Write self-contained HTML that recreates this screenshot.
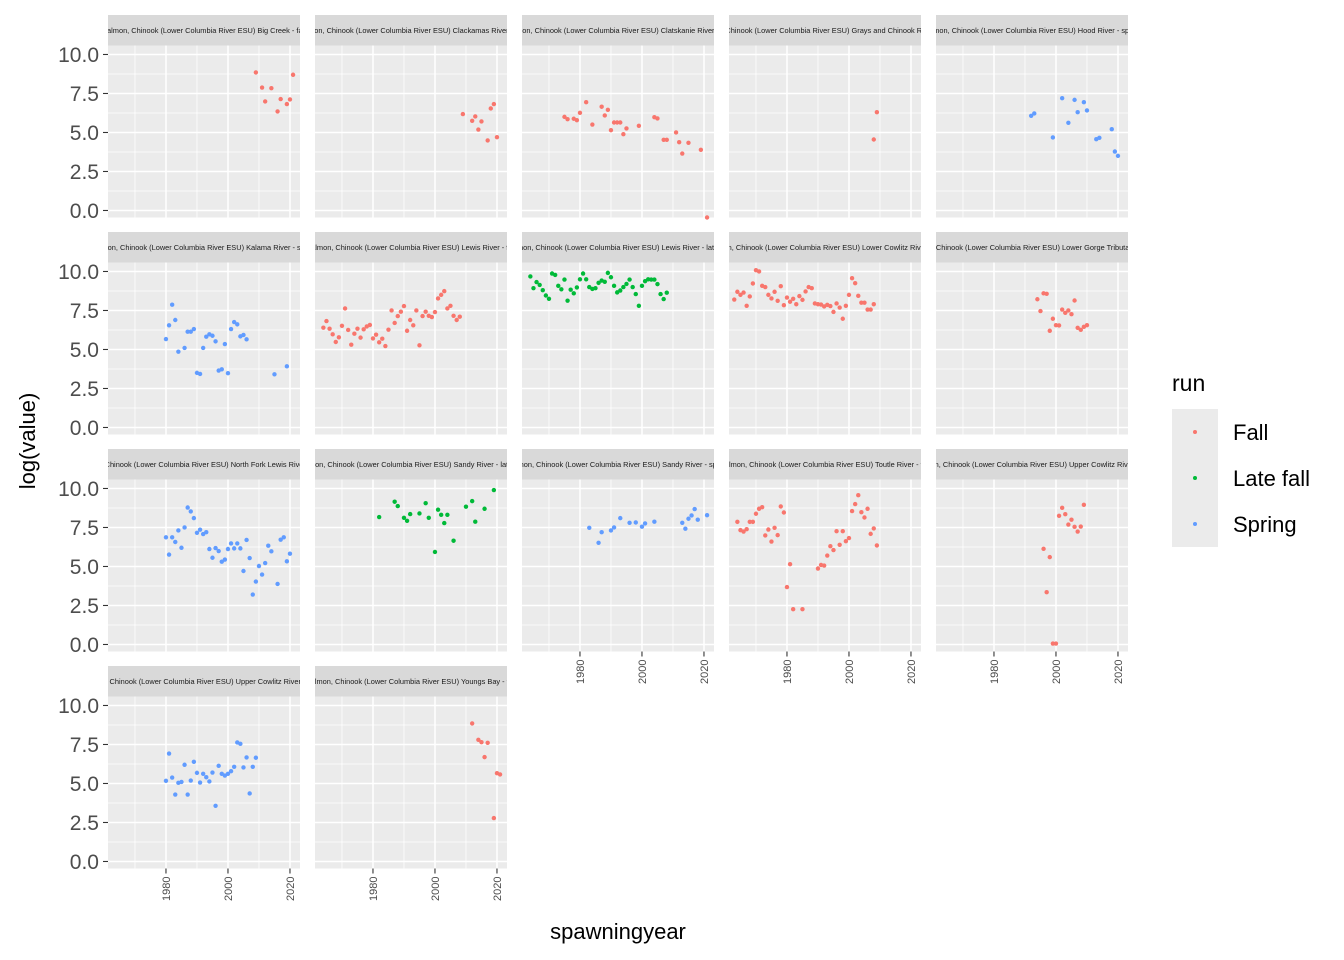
<!DOCTYPE html>
<html><head><meta charset="utf-8"><style>
html,body{margin:0;padding:0;background:#fff;}
svg{display:block;font-family:"Liberation Sans",sans-serif;}
</style></head><body>
<svg id="chart" width="1344" height="960" viewBox="0 0 1344 960" xmlns="http://www.w3.org/2000/svg"></svg>
<script>
// ---- data (years / log(value)) ----
const bigCreekYears = [2009,2011,2012,2014,2016,2017,2019,2020,2021];
const bigCreekValues = [8.85,7.88,6.99,7.84,6.35,7.14,6.82,7.12,8.70];
const clackamasYears = [2009,2012,2013,2014,2015,2017,2018,2019,2020];
const clackamasValues = [6.18,5.75,6.03,5.19,5.71,4.49,6.54,6.82,4.70];
const clatskanieYears = [1975,1976,1978,1979,1980,1982,1984,1987,1988,1989,1990,1991,1992,1993,1994,1995,1999,2004,2005,2007,2008,2011,2012,2013,2015,2019,2021];
const clatskanieValues = [6.0,5.85,5.88,5.79,6.26,6.94,5.51,6.65,6.09,6.45,5.15,5.64,5.64,5.64,4.89,5.26,5.43,5.98,5.90,4.53,4.53,5.0,4.38,3.65,4.34,3.89,-0.45];
const graysYears = [2008,2009];
const graysValues = [4.55,6.3];
const hoodYears = [1992,1993,1999,2002,2004,2006,2007,2009,2010,2013,2014,2018,2019,2020];
const hoodValues = [6.07,6.22,4.68,7.2,5.62,7.09,6.3,6.94,6.41,4.57,4.66,5.21,3.78,3.5];
const kalamaYears = [1980,1981,1982,1983,1984,1986,1987,1988,1989,1990,1991,1992,1993,1994,1995,1996,1997,1998,1999,2000,2001,2002,2003,2004,2005,2006,2015,2019];
const kalamaValues = [5.67,6.55,7.87,6.89,4.86,5.1,6.14,6.14,6.31,3.5,3.43,5.1,5.82,5.97,5.88,5.52,3.65,3.73,5.35,3.48,6.31,6.76,6.61,5.84,5.93,5.65,3.41,3.92];
const lewisFallYears = [1964,1965,1966,1967,1968,1969,1970,1971,1972,1973,1974,1975,1976,1977,1978,1979,1980,1981,1982,1983,1984,1985,1986,1987,1988,1989,1990,1991,1992,1993,1994,1995,1996,1997,1998,1999,2000,2001,2002,2003,2004,2005,2006,2007,2008];
const lewisFallValues = [6.4,6.82,6.33,5.97,5.48,5.78,6.52,7.63,6.25,5.31,6.01,6.33,5.76,6.29,6.48,6.57,5.71,5.95,5.46,5.69,5.22,6.27,7.5,6.7,7.14,7.42,7.78,6.2,6.89,6.55,7.5,5.27,7.14,7.42,7.16,7.08,7.4,8.27,8.5,8.74,7.63,7.8,7.16,6.89,7.1];
const lewisLateYears = [1964,1965,1966,1967,1968,1969,1970,1971,1972,1973,1974,1975,1976,1977,1978,1979,1980,1981,1982,1983,1984,1985,1986,1987,1988,1989,1990,1991,1992,1993,1994,1995,1996,1997,1998,1999,2000,2001,2002,2003,2004,2005,2006,2007,2008];
const lewisLateValues = [9.68,8.93,9.32,9.14,8.8,8.46,8.25,9.87,9.78,9.08,8.86,9.48,8.13,8.83,8.6,8.98,9.5,9.87,9.5,9.0,8.88,8.93,9.27,9.42,9.34,9.91,9.63,9.08,8.66,8.78,9.0,9.2,9.48,9.0,8.55,7.8,9.08,9.38,9.5,9.48,9.48,9.19,8.55,8.23,8.64];
const lowerCowlitzYears = [1963,1964,1965,1966,1967,1968,1969,1970,1971,1972,1973,1974,1975,1976,1977,1978,1979,1980,1981,1982,1983,1984,1985,1986,1987,1988,1989,1990,1991,1992,1993,1994,1995,1996,1997,1998,1999,2000,2001,2002,2003,2004,2005,2006,2007,2008];
const lowerCowlitzValues = [8.2,8.7,8.5,8.65,7.8,8.4,9.23,10.08,10.0,9.08,9.0,8.5,8.27,8.7,8.12,9.06,7.84,8.33,8.06,8.25,7.9,8.42,8.18,8.72,9.0,8.93,7.95,7.9,7.88,7.76,7.86,7.78,7.41,7.95,7.69,6.97,7.8,8.5,9.57,9.25,8.44,8.0,8.0,7.56,7.56,7.9];
const lowerGorgeYears = [1994,1995,1996,1997,1998,1999,2000,2001,2002,2003,2004,2005,2006,2007,2008,2009,2010];
const lowerGorgeValues = [8.22,7.46,8.6,8.57,6.2,6.97,6.56,6.54,7.56,7.35,7.5,7.26,8.14,6.39,6.26,6.45,6.56];
const nfLewisYears = [1980,1981,1982,1983,1984,1985,1986,1987,1988,1989,1990,1991,1992,1993,1994,1995,1996,1997,1998,1999,2000,2001,2002,2003,2004,2005,2006,2007,2008,2009,2010,2011,2012,2013,2014,2016,2017,2018,2019,2020];
const nfLewisValues = [6.87,5.76,6.87,6.57,7.31,6.2,7.5,8.78,8.53,8.1,7.16,7.36,7.08,7.2,6.12,5.56,6.18,5.99,5.31,5.44,6.12,6.48,6.16,6.48,6.16,4.71,6.7,5.54,3.2,4.03,5.03,4.48,5.22,6.33,5.97,3.88,6.72,6.87,5.33,5.82];
const sandyLateYears = [1982,1987,1988,1990,1991,1992,1995,1997,1998,2000,2001,2002,2003,2004,2006,2010,2012,2013,2016,2019];
const sandyLateValues = [8.17,9.15,8.87,8.12,7.93,8.36,8.4,9.06,8.12,5.93,8.64,8.31,7.78,8.31,6.65,8.83,9.19,7.87,8.7,9.9];
const sandySpringYears = [1983,1986,1987,1990,1991,1993,1996,1998,2000,2001,2004,2013,2014,2015,2016,2017,2018,2021];
const sandySpringValues = [7.48,6.52,7.2,7.31,7.5,8.1,7.8,7.82,7.55,7.76,7.87,7.8,7.42,8.06,8.27,8.68,8.0,8.29];
const toutleYears = [1964,1965,1966,1967,1968,1969,1970,1971,1972,1973,1974,1975,1976,1977,1978,1979,1980,1981,1982,1985,1990,1991,1992,1993,1994,1995,1996,1997,1998,1999,2000,2001,2002,2003,2004,2005,2006,2007,2008,2009];
const toutleValues = [7.86,7.33,7.24,7.39,7.86,7.86,8.38,8.7,8.8,6.99,7.37,6.6,7.48,7.01,8.85,8.46,3.68,5.15,2.26,2.26,4.87,5.1,5.06,5.7,6.3,6.05,7.26,6.39,7.26,6.62,6.82,8.55,9.0,9.57,8.48,8.14,8.7,7.09,7.44,6.35];
const upperCowlitzFallYears = [1996,1997,1998,1999,2000,2001,2002,2003,2004,2005,2006,2007,2008,2009];
const upperCowlitzFallValues = [6.13,3.35,5.6,0.06,0.06,8.25,8.76,8.35,7.69,8.0,7.54,7.24,7.56,8.95];
const upperCowlitzSpringYears = [1980,1981,1982,1983,1984,1985,1986,1987,1988,1989,1990,1991,1992,1993,1994,1995,1996,1997,1998,1999,2000,2001,2002,2003,2004,2005,2006,2007,2008,2009];
const upperCowlitzSpringValues = [5.17,6.92,5.38,4.29,5.04,5.1,6.2,4.29,5.19,6.39,5.68,5.06,5.62,5.4,5.13,5.7,3.57,6.13,5.62,5.51,5.62,5.79,6.07,7.63,7.54,6.03,6.67,4.36,6.07,6.65];
const youngsYears = [2012,2014,2015,2016,2017,2019,2020,2021];
const youngsValues = [8.85,7.8,7.65,6.69,7.61,2.78,5.66,5.58];

const yTicks = [0, 2.5, 5, 7.5, 10];
const yTickLabels = ["0.0","2.5","5.0","7.5","10.0"];
const xTicks = [1980, 2000, 2020];
const runNames = ["Fall","Late fall","Spring"];
const runColors = ["#F8766D","#00BA38","#619CFF"];

const P = "Salmon, Chinook (Lower Columbia River ESU) ";
const panels = [
 {label:P+"Big Creek - fall", run:0, x:bigCreekYears, y:bigCreekValues},
 {label:P+"Clackamas River - fall", run:0, x:clackamasYears, y:clackamasValues},
 {label:P+"Clatskanie River - fall", run:0, x:clatskanieYears, y:clatskanieValues},
 {label:"Salmon, Chinook (Lower Columbia River ESU) Grays and Chinook Rivers - fall", run:0, x:graysYears, y:graysValues},
 {label:P+"Hood River - spring", run:2, x:hoodYears, y:hoodValues},
 {label:P+"Kalama River - spring", run:2, x:kalamaYears, y:kalamaValues},
 {label:P+"Lewis River - fall", run:0, x:lewisFallYears, y:lewisFallValues},
 {label:P+"Lewis River - late fall", run:1, x:lewisLateYears, y:lewisLateValues},
 {label:P+"Lower Cowlitz River - fall", run:0, x:lowerCowlitzYears, y:lowerCowlitzValues},
 {label:P+"Lower Gorge Tributaries - fall", run:0, x:lowerGorgeYears, y:lowerGorgeValues},
 {label:P+"North Fork Lewis River - spring", run:2, x:nfLewisYears, y:nfLewisValues},
 {label:P+"Sandy River - late fall", run:1, x:sandyLateYears, y:sandyLateValues},
 {label:P+"Sandy River - spring", run:2, x:sandySpringYears, y:sandySpringValues},
 {label:P+"Toutle River - fall", run:0, x:toutleYears, y:toutleValues},
 {label:P+"Upper Cowlitz River - fall", run:0, x:upperCowlitzFallYears, y:upperCowlitzFallValues},
 {label:P+"Upper Cowlitz River - spring", run:2, x:upperCowlitzSpringYears, y:upperCowlitzSpringValues},
 {label:P+"Youngs Bay - fall", run:0, x:youngsYears, y:youngsValues}
];

const NS = "http://www.w3.org/2000/svg";
const svg = document.getElementById("chart");
function mk(tag, attrs, parent){
  const e = document.createElementNS(NS, tag);
  for (const k in attrs) e.setAttribute(k, attrs[k]);
  (parent||svg).appendChild(e);
  return e;
}
const PW = 192, PH = 172, STRIP = 30.5, COLSTEP = 207, ROWSTEP = 217;
const X0 = 108, Y0 = 15;
const XMIN = 1961.3, XMAX = XMIN + PW/3.1;
const YMIN = -0.45, YMAX = YMIN + PH/15.6;
const defs = mk("defs", {});
panels.forEach((p, i) => {
  const c = i % 5, r = Math.floor(i / 5);
  const px = X0 + c*COLSTEP, sy = Y0 + r*ROWSTEP, py = sy + STRIP;
  const xs = v => px + (v - XMIN) / (XMAX - XMIN) * PW;
  const ys = v => py + PH - (v - YMIN) / (YMAX - YMIN) * PH;
  const g = mk("g", {});
  
  
  const cp = mk("clipPath", {id:"clip"+i}, defs);
  mk("rect", {x:px, y:sy, width:PW, height:STRIP+PH}, cp);
  const strip = mk("rect", {x:px, y:sy, width:PW, height:STRIP, fill:"#D9D9D9"}, g);
  
  
  const st = mk("text", {x:px+PW/2, y:sy+STRIP/2+2.6, "font-size":"7.4", fill:"#1A1A1A", "text-anchor":"middle", "clip-path":"url(#clip"+i+")"}, g);
  st.textContent = p.label;
  
  
  const bg = mk("rect", {x:px, y:py, width:PW, height:PH, fill:"#EBEBEB"}, g);
  
  
  [1.25,3.75,6.25,8.75].forEach(v => mk("line",{x1:px,x2:px+PW,y1:ys(v),y2:ys(v),stroke:"#fff","stroke-width":0.75},g));
  [1970,1990,2010].forEach(v => mk("line",{x1:xs(v),x2:xs(v),y1:py,y2:py+PH,stroke:"#fff","stroke-width":0.75},g));
  yTicks.forEach(v => mk("line",{x1:px,x2:px+PW,y1:ys(v),y2:ys(v),stroke:"#fff","stroke-width":1.5},g));
  xTicks.forEach(v => mk("line",{x1:xs(v),x2:xs(v),y1:py,y2:py+PH,stroke:"#fff","stroke-width":1.5},g));
  p.x.forEach((yr, k) => {
    const pt = mk("circle", {cx:xs(yr), cy:ys(p.y[k]), r:2.2, fill:runColors[p.run]}, g);
    
    
  });
  if (c === 0) {
    yTicks.forEach((v, k) => {
      mk("line",{x1:px-5,x2:px,y1:ys(v),y2:ys(v),stroke:"#333","stroke-width":1.1},g);
      const t = mk("text",{x:px-9,y:ys(v)+7.5,"font-size":"21","text-anchor":"end",fill:"#4D4D4D"},g);
      t.textContent = yTickLabels[k];
      
      
    });
  }
  const bottom = (i >= 12) || (i+5 >= panels.length);
  if (bottom) {
    xTicks.forEach(v => {
      mk("line",{x1:xs(v),x2:xs(v),y1:py+PH,y2:py+PH+5,stroke:"#333","stroke-width":1.1},g);
      const t = mk("text",{x:0,y:0,"font-size":"11","text-anchor":"end",fill:"#4D4D4D",
        transform:"translate("+(xs(v)+4)+","+(py+PH+8)+") rotate(-90)"},g);
      t.textContent = v;
      
      
    });
  }
});
const xt = mk("text",{x:618,y:939,"font-size":"22","text-anchor":"middle",fill:"#000"});
xt.textContent = "spawningyear";


const yt = mk("text",{x:0,y:0,"font-size":"22","text-anchor":"middle",fill:"#000",transform:"translate(35,441) rotate(-90)"});
yt.textContent = "log(value)";


const lt = mk("text",{x:1172,y:391,"font-size":"23",fill:"#000"});
lt.textContent = "run";


runNames.forEach((n, k) => {
  const ky = 409 + k*46;
  const kr = mk("rect",{x:1172,y:ky,width:46,height:46,fill:"#EBEBEB"});
  
  
  const kd = mk("circle",{cx:1195,cy:ky+23,r:2,fill:runColors[k]});
  
  
  const kt = mk("text",{x:1233,y:ky+31,"font-size":"22",fill:"#000"});
  kt.textContent = n;
  
  
});
</script>
</body></html>
